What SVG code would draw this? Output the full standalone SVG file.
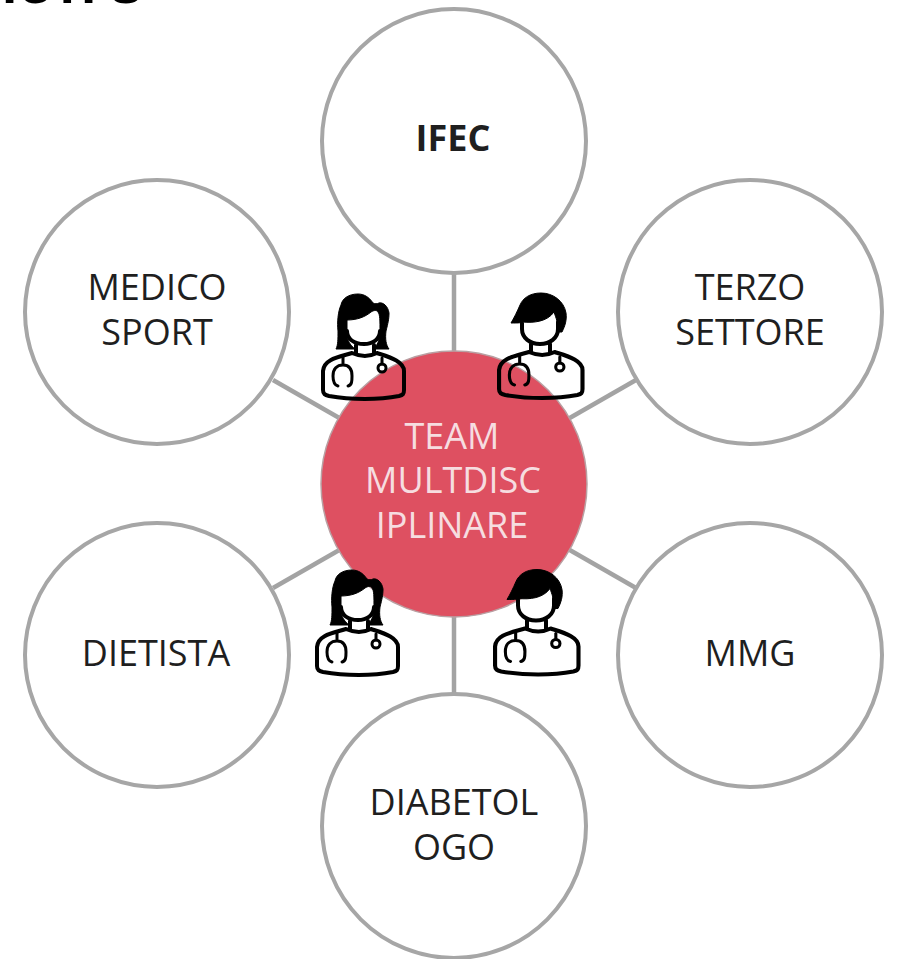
<svg xmlns="http://www.w3.org/2000/svg" width="897" height="959" viewBox="0 0 897 959">
<style>
.c{fill:#fff;stroke:#a6a6a6;stroke-width:4}
.l{stroke:#a3a3a3;stroke-width:4.5;fill:none}
.t{font-family:"Open Sans","Liberation Sans",sans-serif;font-size:36px;fill:#1f1f1f;text-anchor:middle}
.in{fill:#f6dde0}
.k{fill:none;stroke:#000;stroke-width:4;stroke-linecap:round;stroke-linejoin:round}
.s{fill:none;stroke:#000;stroke-width:3;stroke-linecap:round;stroke-linejoin:round}
.h{fill:#000;stroke:#000;stroke-width:1;stroke-linejoin:round}
</style>
<defs>
<g id="body">
<path class="k" d="M31 60C18 64 3 66 2 78V97C2 101 4 102 8 103C30 107 58 107 78 103C82 102 83 101 83 97V78C83 68 68 64 56 60C48 64 40 64 31 60Z"/>
<path class="s" d="M22 64V72M17 93C13 92 12 88 12 83C12 76 16 72 22 72C28 72 31 76 31 83C31 88 31 92 27 93"/>
<path class="s" d="M61 65V71"/><circle class="s" cx="61" cy="75" r="4"/>
</g>
<g id="fem">
<path class="h" d="M37 1C27 1 21 6 20 12C17 18 16 30 17 38C17 46 17 52 15 56L34 56C29 52 26 47 26 41V27C36 27 44 24 50 19C53 17 56 17 57 19C59 22 59 26 59 40C59 47 56 52 53 56H68C65 52 64 46 65 38C67 30 68 26 68 20C67 13 62 9 58 10C56 11 54 11 52 10C48 4 43 1 37 1Z"/>
<path class="k" d="M26 38C26 46 33 51 43 51C52 51 59 46 59 38"/>
<path class="k" d="M35 52V60M53 52V60"/>
<use href="#body"/>
</g>
<g id="mal">
<path class="h" d="M44 1C33 1 26 6 23 13C20 20 17 26 14 31C20 31 24 31 26 30C36 31 50 30 57 20C59 26 61 30 61 40L65 40C68 34 70 28 69 21C67 9 56 1 44 1Z"/>
<path class="k" d="M25 31V37C25 46 33 52 43 52C53 52 61 46 61 37V30"/>
<path class="k" d="M34 52V60M53 52V60"/>
<use href="#body" transform="scale(1.03,1)"/>
</g>
</defs>
<rect width="897" height="959" fill="#fff"/>
<text x="2.5 18 60 110" y="2" font-family="Liberation Sans,sans-serif" font-size="64" fill="#000" stroke="#000" stroke-width="2">ions</text>
<g id="connectors">
<line class="l" x1="454" y1="270" x2="454" y2="700"/>
<line class="l" x1="273" y1="380" x2="636" y2="588"/>
<line class="l" x1="636" y1="380" x2="273" y2="588"/>
</g>
<g id="center"><circle cx="454" cy="484" r="133" fill="#de5061" stroke="#b9a0a3" stroke-width="1.5"/>
<text class="t in" style="fill:#f6dde0" x="452" y="449">TEAM</text>
<text class="t in" style="fill:#f6dde0" x="453" y="493">MULTDISC</text>
<text class="t in" style="fill:#f6dde0" x="452" y="538">IPLINARE</text></g>
<g id="ifec"><circle class="c" cx="454" cy="141" r="132"/><text class="t" x="453" y="151" font-weight="700" font-size="36">IFEC</text></g>
<g id="medico"><circle class="c" cx="157" cy="312" r="132"/><text class="t" x="157" y="300">MEDICO</text><text class="t" x="157" y="345">SPORT</text></g>
<g id="terzo"><circle class="c" cx="750" cy="312" r="132"/><text class="t" x="750" y="300">TERZO</text><text class="t" x="750" y="345">SETTORE</text></g>
<g id="dietista"><circle class="c" cx="157" cy="655" r="132"/><text class="t" x="156" y="666">DIETISTA</text></g>
<g id="mmg"><circle class="c" cx="750" cy="655" r="132"/><text class="t" x="750" y="666">MMG</text></g>
<g id="diabetologo"><circle class="c" cx="454" cy="826" r="132"/><text class="t" x="454" y="815">DIABETOL</text><text class="t" x="454" y="860">OGO</text></g>
<g id="doctor-1"><use href="#fem" x="321" y="293"/></g>
<g id="doctor-2"><use href="#mal" x="497" y="292"/></g>
<g id="doctor-3"><use href="#fem" x="315" y="569"/></g>
<g id="doctor-4"><use href="#mal" x="493" y="568.5"/></g>
</svg>
